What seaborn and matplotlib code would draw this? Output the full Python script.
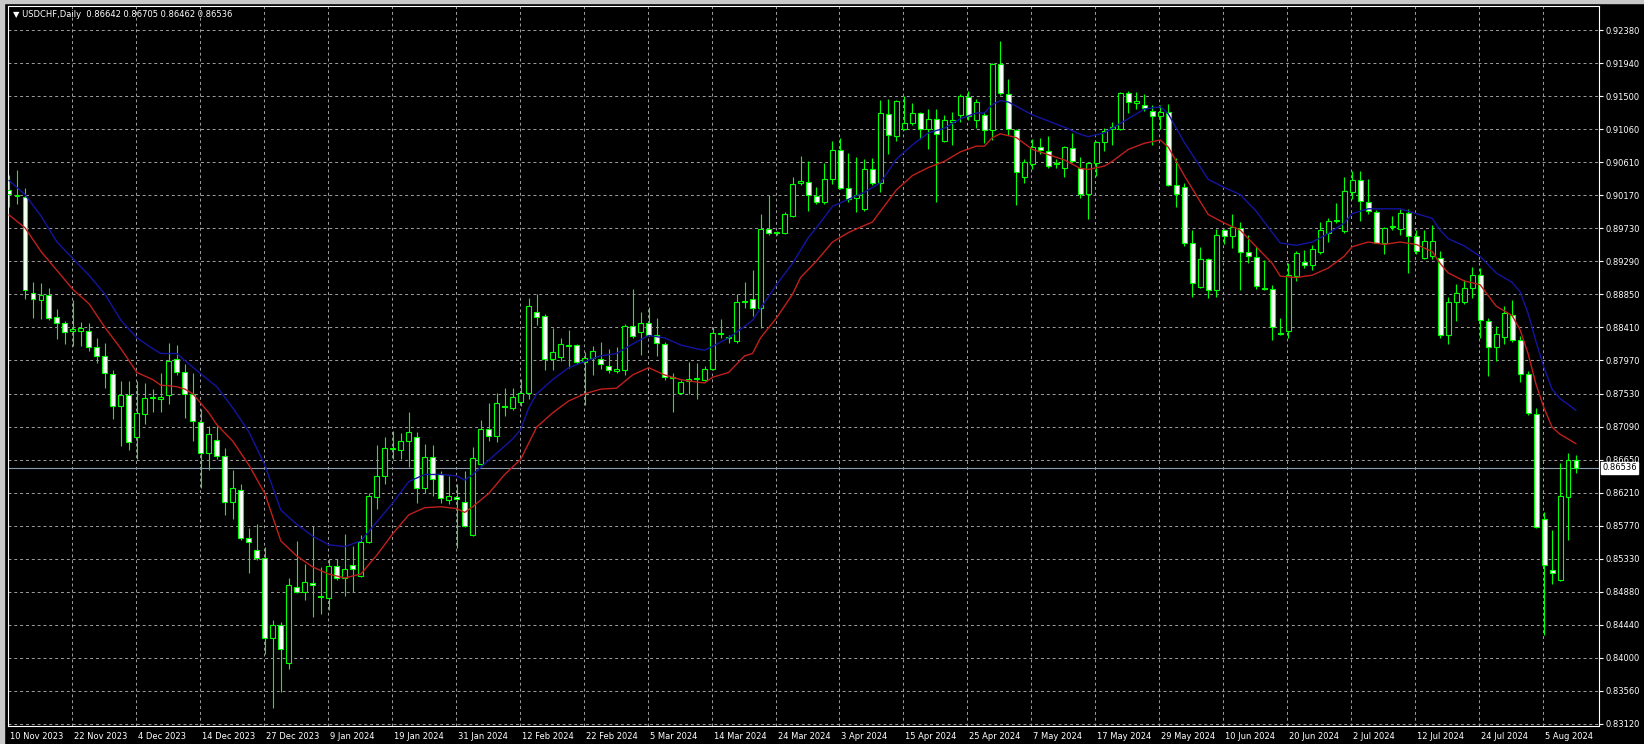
import numpy as np
import pandas as pd
import matplotlib
matplotlib.use("Agg")
import matplotlib.pyplot as plt
import matplotlib.transforms as mtransforms
from matplotlib.patches import Rectangle
import seaborn as sns

# daily USDCHF bars (index 0 = 10 Nov 2023)
opens = [
    0.90250, 0.90174, 0.90155, 0.88875, 0.88780, 0.88844, 0.88558, 0.88469, 0.88368, 0.88368,
    0.88368, 0.88146, 0.88032, 0.87791, 0.87366, 0.87512, 0.86942, 0.87252, 0.87474, 0.87461,
    0.87506, 0.87994, 0.87823, 0.87525, 0.87145, 0.86732, 0.86903, 0.86701, 0.86080, 0.86245,
    0.85605, 0.85434, 0.85338, 0.84261, 0.84432, 0.83931, 0.84946, 0.84882, 0.85002, 0.84831,
    0.84800, 0.85224, 0.85066, 0.85243, 0.85098, 0.85541, 0.86144, 0.86429, 0.86790, 0.86777,
    0.86891, 0.86942, 0.86270, 0.86688, 0.86448, 0.86112, 0.86150, 0.86080, 0.85636, 0.86586,
    0.87049, 0.86967, 0.87366, 0.87335, 0.87417, 0.87537, 0.88615, 0.88571, 0.87988, 0.88019,
    0.88165, 0.88171, 0.87956, 0.88000, 0.87988, 0.87893, 0.87836, 0.87842, 0.88425, 0.88349,
    0.88476, 0.88317, 0.88190, 0.87753, 0.87537, 0.87696, 0.87721, 0.87715, 0.87855, 0.88323,
    0.88267, 0.88235, 0.88755, 0.88793, 0.88666, 0.89730, 0.89686, 0.89667, 0.89902, 0.90345,
    0.90358, 0.90174, 0.90092, 0.90396, 0.90776, 0.90269, 0.90136, 0.89990, 0.90529, 0.90339,
    0.91264, 0.90967, 0.91062, 0.91138, 0.91277, 0.91062, 0.91201, 0.90897, 0.91163, 0.91246,
    0.91486, 0.91182, 0.91246, 0.91043, 0.91930, 0.91537, 0.91055, 0.90428, 0.90599, 0.90821,
    0.90770, 0.90612, 0.90536, 0.90808, 0.90548, 0.90199, 0.90612, 0.90884, 0.91068, 0.91062,
    0.91550, 0.91410, 0.91379, 0.91309, 0.91233, 0.91284, 0.90314, 0.90282, 0.89541, 0.88951,
    0.89331, 0.88907, 0.89712, 0.89636, 0.89744, 0.89414, 0.89350, 0.88945, 0.88932, 0.88343,
    0.88368, 0.89097, 0.89281, 0.89249, 0.89414, 0.89680, 0.89832, 0.89699, 0.90219, 0.90377,
    0.90092, 0.89952, 0.89534, 0.89750, 0.89724, 0.89946, 0.89636, 0.89344, 0.89363, 0.89344,
    0.88317, 0.88748, 0.88748, 0.88939, 0.89110, 0.88495, 0.88146, 0.88286, 0.88584, 0.88241,
    0.87791, 0.87259, 0.85858, 0.85167, 0.85041, 0.86144, 0.86642,
]
highs = [
    0.90453, 0.90516, 0.90269, 0.89015, 0.89002, 0.88939, 0.88653, 0.88495, 0.88780, 0.88488,
    0.88476, 0.88267, 0.88210, 0.87842, 0.87696, 0.87696, 0.87696, 0.87664, 0.87588, 0.87810,
    0.88210, 0.88171, 0.87918, 0.87797, 0.87322, 0.87100, 0.87100, 0.86796, 0.86511, 0.86321,
    0.85732, 0.85782, 0.85484, 0.84502, 0.84483, 0.85066, 0.85560, 0.85256, 0.85763, 0.85212,
    0.85320, 0.85320, 0.85656, 0.85497, 0.85636, 0.86194, 0.86841, 0.86942, 0.87030, 0.86999,
    0.87284, 0.87018, 0.86853, 0.86841, 0.86492, 0.86429, 0.86321, 0.86492, 0.86815, 0.87176,
    0.87398, 0.87537, 0.87601, 0.87601, 0.87728, 0.88806, 0.88856, 0.88590, 0.88400, 0.88273,
    0.88381, 0.88190, 0.88083, 0.88159, 0.88222, 0.88127, 0.88146, 0.88457, 0.88919, 0.88621,
    0.88685, 0.88539, 0.88222, 0.87810, 0.87715, 0.87956, 0.87937, 0.87893, 0.88412, 0.88527,
    0.88317, 0.88856, 0.89015, 0.89173, 0.89933, 0.90187, 0.89705, 0.89952, 0.90428, 0.90707,
    0.90631, 0.90282, 0.90612, 0.90903, 0.90948, 0.90745, 0.90694, 0.90656, 0.90681, 0.91455,
    0.91468, 0.91445, 0.91505, 0.91404, 0.91296, 0.91328, 0.91328, 0.91246, 0.91284, 0.91537,
    0.91569, 0.91468, 0.91296, 0.91943, 0.92235, 0.91727, 0.91062, 0.90662, 0.90928, 0.90948,
    0.90967, 0.90662, 0.90840, 0.91011, 0.90694, 0.90618, 0.90897, 0.91074, 0.91150, 0.91562,
    0.91569, 0.91562, 0.91531, 0.91379, 0.91379, 0.91391, 0.90681, 0.90345, 0.89712, 0.89490,
    0.89340, 0.89724, 0.89730, 0.89921, 0.89820, 0.89648, 0.89502, 0.89312, 0.88983, 0.88539,
    0.89268, 0.89439, 0.89446, 0.89509, 0.89826, 0.89870, 0.90079, 0.90428, 0.90504, 0.90504,
    0.90390, 0.89978, 0.89756, 0.89902, 0.89997, 0.89997, 0.89712, 0.89712, 0.89775, 0.89439,
    0.88824, 0.88996, 0.89046, 0.89224, 0.89205, 0.88539, 0.88425, 0.88698, 0.88780, 0.88298,
    0.87829, 0.87335, 0.85941, 0.85707, 0.86606, 0.86732, 0.86705,
]
lows = [
    0.90015, 0.90060, 0.88793, 0.88539, 0.88527, 0.88507, 0.88254, 0.88190, 0.88159, 0.88159,
    0.88095, 0.87937, 0.87607, 0.87195, 0.86827, 0.86777, 0.86650, 0.87125, 0.87284, 0.87284,
    0.87385, 0.87778, 0.87208, 0.86891, 0.86270, 0.86511, 0.86650, 0.85909, 0.85858, 0.85579,
    0.85129, 0.85307, 0.84051, 0.83322, 0.83544, 0.83849, 0.84863, 0.84768, 0.84546, 0.84590,
    0.84641, 0.85041, 0.84831, 0.84876, 0.85085, 0.85528, 0.85985, 0.86321, 0.86650, 0.86650,
    0.86543, 0.86067, 0.86194, 0.86163, 0.86067, 0.86048, 0.85465, 0.85750, 0.85624, 0.86574,
    0.86891, 0.86878, 0.87233, 0.87303, 0.87366, 0.87461, 0.88444, 0.87842, 0.87842, 0.87969,
    0.87874, 0.87918, 0.87379, 0.87778, 0.87855, 0.87810, 0.87810, 0.87778, 0.88273, 0.88045,
    0.88298, 0.88032, 0.87715, 0.87284, 0.87525, 0.87525, 0.87461, 0.87696, 0.87842, 0.88273,
    0.88210, 0.88210, 0.88666, 0.88571, 0.88400, 0.89648, 0.89648, 0.89661, 0.89883, 0.90314,
    0.89965, 0.90060, 0.90060, 0.90326, 0.90263, 0.90092, 0.89952, 0.89965, 0.90314, 0.90219,
    0.90726, 0.90897, 0.91055, 0.91119, 0.90935, 0.90802, 0.90092, 0.90884, 0.90852, 0.91157,
    0.91188, 0.91074, 0.90872, 0.90916, 0.91518, 0.90979, 0.90047, 0.90345, 0.90529, 0.90726,
    0.90548, 0.90536, 0.90428, 0.90618, 0.90136, 0.89857, 0.90441, 0.90770, 0.90852, 0.91055,
    0.91277, 0.91328, 0.91309, 0.90852, 0.91062, 0.90301, 0.90015, 0.89503, 0.88824, 0.88939,
    0.88806, 0.88824, 0.89521, 0.89477, 0.88907, 0.89268, 0.88919, 0.88907, 0.88241, 0.88317,
    0.88273, 0.89028, 0.89205, 0.89173, 0.89395, 0.89553, 0.89807, 0.89680, 0.90124, 0.89838,
    0.89921, 0.89534, 0.89395, 0.89712, 0.89648, 0.89141, 0.89395, 0.89331, 0.89331, 0.88273,
    0.88190, 0.88495, 0.88729, 0.88806, 0.88273, 0.87759, 0.87969, 0.88190, 0.88222, 0.87683,
    0.87240, 0.85732, 0.84305, 0.84990, 0.85022, 0.85579, 0.86462,
]
closes = [
    0.90199, 0.90180, 0.88907, 0.88793, 0.88850, 0.88539, 0.88476, 0.88349, 0.88387, 0.88400,
    0.88146, 0.88032, 0.87797, 0.87366, 0.87512, 0.86878, 0.87271, 0.87474, 0.87487, 0.87480,
    0.87969, 0.87823, 0.87525, 0.87157, 0.86732, 0.86986, 0.86701, 0.86080, 0.86270, 0.85605,
    0.85541, 0.85338, 0.84261, 0.84432, 0.84115, 0.84971, 0.84882, 0.85009, 0.84971, 0.84806,
    0.85224, 0.85066, 0.85180, 0.85180, 0.85541, 0.86163, 0.86429, 0.86796, 0.86802, 0.86891,
    0.87018, 0.86270, 0.86688, 0.86384, 0.86131, 0.86163, 0.86125, 0.85763, 0.86669, 0.87049,
    0.86967, 0.87398, 0.87347, 0.87480, 0.87537, 0.88698, 0.88558, 0.87988, 0.88083, 0.88190,
    0.88178, 0.87956, 0.88000, 0.88095, 0.87925, 0.87842, 0.87861, 0.88431, 0.88298, 0.88476,
    0.88317, 0.88210, 0.87747, 0.87741, 0.87683, 0.87721, 0.87734, 0.87855, 0.88336, 0.88336,
    0.88279, 0.88748, 0.88767, 0.88666, 0.89730, 0.89680, 0.89674, 0.89921, 0.90333, 0.90364,
    0.90187, 0.90092, 0.90396, 0.90776, 0.90269, 0.90124, 0.90187, 0.90529, 0.90339, 0.91277,
    0.90979, 0.91436, 0.91138, 0.91277, 0.91062, 0.91201, 0.90992, 0.91182, 0.91182, 0.91499,
    0.91233, 0.91423, 0.91043, 0.91930, 0.91550, 0.91062, 0.90485, 0.90618, 0.90821, 0.90776,
    0.90567, 0.90593, 0.90821, 0.90631, 0.90199, 0.90612, 0.90884, 0.91030, 0.91087, 0.91550,
    0.91423, 0.91442, 0.91341, 0.91233, 0.91296, 0.90314, 0.90199, 0.89541, 0.89002, 0.89331,
    0.88907, 0.89648, 0.89636, 0.89756, 0.89414, 0.89363, 0.88970, 0.88932, 0.88412, 0.88330,
    0.89110, 0.89407, 0.89249, 0.89458, 0.89712, 0.89838, 0.89845, 0.90231, 0.90377, 0.90105,
    0.89965, 0.89541, 0.89744, 0.89763, 0.89946, 0.89636, 0.89427, 0.89566, 0.89566, 0.88317,
    0.88748, 0.88869, 0.88939, 0.89110, 0.88508, 0.88146, 0.88330, 0.88602, 0.88241, 0.87791,
    0.87271, 0.85750, 0.85243, 0.85129, 0.86163, 0.86637, 0.86536,
]

# moving averages, read at a subset of bars
blue_idx = [0, 2, 4, 6, 8, 10, 12, 14, 16, 18, 19, 21, 22, 24, 26, 28, 30, 32, 34, 36,
            38, 40, 42, 44, 46, 48, 50, 52, 54, 56, 57, 58, 59, 61, 63, 64, 65, 66, 68, 70,
            72, 74, 76, 78, 80, 82, 84, 86, 87, 88, 90, 92, 93, 94, 96, 98, 100, 101, 103, 105,
            107, 109, 111, 113, 115, 117, 119, 121, 122, 123, 124, 125, 128, 132, 134, 135, 137, 138, 140, 142,
            144, 145, 147, 149, 150, 152, 154, 156, 158, 159, 161, 163, 165, 167, 168, 170, 172, 174, 176, 178,
            179, 180, 182, 184, 186, 188, 189, 190, 191, 192, 193, 194, 195, 196]
blue_ma = [0.90377, 0.90187, 0.89902, 0.89553, 0.89331, 0.89110, 0.88856, 0.88507, 0.88273, 0.88127,
           0.88064, 0.88064, 0.87969, 0.87791, 0.87620, 0.87335, 0.87018, 0.86574, 0.85972, 0.85782,
           0.85624, 0.85509, 0.85484, 0.85560, 0.85814, 0.86067, 0.86353, 0.86448, 0.86448, 0.86429,
           0.86372, 0.86448, 0.86543, 0.86733, 0.86923, 0.87049, 0.87335, 0.87525, 0.87715, 0.87874,
           0.87956, 0.88032, 0.88064, 0.88190, 0.88305, 0.88273, 0.88178, 0.88127, 0.88108, 0.88159,
           0.88273, 0.88425, 0.88507, 0.88666, 0.88983, 0.89268, 0.89617, 0.89744, 0.90029, 0.90124,
           0.90219, 0.90345, 0.90662, 0.90852, 0.91011, 0.91074, 0.91201, 0.91277, 0.91277, 0.91391,
           0.91442, 0.91423, 0.91252, 0.91087, 0.90992, 0.90960, 0.91011, 0.91074, 0.91201, 0.91328,
           0.91360, 0.91265, 0.90884, 0.90555, 0.90390, 0.90282, 0.90187, 0.89965, 0.89680, 0.89541,
           0.89509, 0.89553, 0.89667, 0.89807, 0.89933, 0.89997, 0.89997, 0.89997, 0.89933, 0.89870,
           0.89712, 0.89598, 0.89502, 0.89363, 0.89141, 0.89015, 0.88888, 0.88602, 0.88222, 0.87874,
           0.87588, 0.87461, 0.87386, 0.87303]
red_idx = [0, 2, 4, 6, 8, 10, 12, 14, 15, 16, 18, 19, 20, 21, 22, 23, 24, 25, 26, 28,
           30, 32, 34, 36, 38, 40, 42, 44, 46, 48, 49, 50, 52, 54, 56, 57, 58, 60, 62, 64,
           66, 68, 70, 72, 74, 76, 78, 80, 82, 84, 86, 87, 88, 90, 92, 93, 94, 96, 98, 99,
           101, 103, 105, 107, 108, 109, 111, 113, 115, 117, 119, 121, 122, 123, 124, 126, 128, 132, 134, 135,
           137, 138, 140, 142, 144, 145, 147, 149, 150, 152, 154, 156, 158, 159, 161, 163, 165, 167, 168, 170,
           172, 174, 176, 178, 179, 180, 182, 184, 186, 188, 189, 190, 191, 192, 193, 194, 195, 196]
red_ma = [0.89915, 0.89744, 0.89427, 0.89173, 0.88919, 0.88729, 0.88412, 0.88127, 0.87969, 0.87810,
          0.87715, 0.87639, 0.87633, 0.87620, 0.87588, 0.87525, 0.87398, 0.87271, 0.87113, 0.86891,
          0.86574, 0.86194, 0.85560, 0.85358, 0.85212, 0.85117, 0.85066, 0.85117, 0.85370, 0.85656,
          0.85782, 0.85909, 0.86004, 0.86017, 0.85992, 0.85941, 0.86017, 0.86194, 0.86448, 0.86650,
          0.87081, 0.87271, 0.87430, 0.87525, 0.87588, 0.87601, 0.87778, 0.87874, 0.87778, 0.87715,
          0.87683, 0.87671, 0.87747, 0.87810, 0.88032, 0.88064, 0.88273, 0.88539, 0.88856, 0.89078,
          0.89300, 0.89553, 0.89680, 0.89775, 0.89820, 0.89965, 0.90250, 0.90441, 0.90548, 0.90631,
          0.90758, 0.90834, 0.90834, 0.90948, 0.90999, 0.90948, 0.90790, 0.90650, 0.90536, 0.90523,
          0.90567, 0.90631, 0.90790, 0.90872, 0.90916, 0.90821, 0.90441, 0.90092, 0.89921, 0.89807,
          0.89712, 0.89490, 0.89268, 0.89097, 0.89078, 0.89110, 0.89205, 0.89363, 0.89490, 0.89553,
          0.89521, 0.89553, 0.89521, 0.89427, 0.89268, 0.89141, 0.89034, 0.88983, 0.88698, 0.88571,
          0.88381, 0.88064, 0.87652, 0.87335, 0.87081, 0.86986, 0.86923, 0.86859]

date_labels = ["10 Nov 2023", "22 Nov 2023", "4 Dec 2023", "14 Dec 2023", "27 Dec 2023",
               "9 Jan 2024", "19 Jan 2024", "31 Jan 2024", "12 Feb 2024", "22 Feb 2024",
               "5 Mar 2024", "14 Mar 2024", "24 Mar 2024", "3 Apr 2024", "15 Apr 2024",
               "25 Apr 2024", "7 May 2024", "17 May 2024", "29 May 2024", "10 Jun 2024",
               "20 Jun 2024", "2 Jul 2024", "12 Jul 2024", "24 Jul 2024", "5 Aug 2024"]
price_labels = ["0.83120", "0.83560", "0.84000", "0.84440", "0.84880", "0.85330", "0.85770",
                "0.86210", "0.86650", "0.87090", "0.87530", "0.87970", "0.88410", "0.88850",
                "0.89290", "0.89730", "0.90170", "0.90610", "0.91060", "0.91500", "0.91940",
                "0.92380"]

CANDLE = "#00ff00"
GRID = "#a0a0a0"
W, H = 1644, 744

sns.set_style("dark", {"axes.facecolor": "black", "figure.facecolor": "black",
                       "axes.edgecolor": "white", "text.color": "white",
                       "xtick.color": "white", "ytick.color": "white"})
plt.rcParams["font.family"] = ["DejaVu Sans"]

fig = plt.figure(figsize=(W / 100, H / 100), dpi=100)
fig.patch.set_facecolor("black")
ax = fig.add_axes([8 / W, 18 / H, (1599 - 8) / W, (726 - 6) / H])
ax.set_facecolor("black")

# window frame
fig.add_artist(Rectangle((0, 0), 4 / W, 1, transform=fig.transFigure, color="#c8c8c8", zorder=0))
fig.add_artist(Rectangle((0, 1 - 3 / H), 1, 3 / H, transform=fig.transFigure, color="#c8c8c8", zorder=0))

x = np.arange(len(opens))
o, h, l, c = (np.array(v) for v in (opens, highs, lows, closes))
bull = c >= o

ax.vlines(x, l, h, color=CANDLE, linewidth=0.8, zorder=3)
ax.bar(x[bull], (c - o)[bull], bottom=o[bull], width=0.62, color="black",
       edgecolor=CANDLE, linewidth=0.8, zorder=4)
ax.bar(x[~bull], (o - c)[~bull], bottom=c[~bull], width=0.62, color="white",
       edgecolor=CANDLE, linewidth=0.8, zorder=4)

ma = pd.DataFrame({"bar": blue_idx, "price": blue_ma})
sns.lineplot(data=ma, x="bar", y="price", ax=ax, color="#1414a0", linewidth=1, zorder=5)
ma = pd.DataFrame({"bar": red_idx, "price": red_ma})
sns.lineplot(data=ma, x="bar", y="price", ax=ax, color="#c0201c", linewidth=1, zorder=5)

# bid line and label
last = closes[-1]
ax.axhline(last, color="#8c9bab", linewidth=0.8, zorder=2)
ax.annotate(f"{last:.5f}", xy=(1, last), xycoords=("axes fraction", "data"),
            xytext=(2.5, 0), textcoords="offset points", ha="left", va="center",
            fontsize=6, color="black", annotation_clip=False,
            bbox=dict(boxstyle="square,pad=0.15", fc="white", ec="white"))

ax.set_xlim(-0.1, 198.875)
ax.set_ylim(0.83088, 0.92706)

ax.set_xticks(np.arange(len(date_labels)) * 8 - 0.125)
ax.set_xticklabels(date_labels)
ax.yaxis.tick_right()
ax.set_yticks(np.linspace(0.83120, 0.92380, len(price_labels)))
ax.set_yticklabels(price_labels)
ax.tick_params(axis="x", direction="out", length=3, width=0.8, color="white",
               labelcolor="white", labelsize=6, pad=1.5)
ax.tick_params(axis="y", direction="out", length=3, width=0.8, color="white",
               labelcolor="white", labelsize=6, pad=2)
shift = mtransforms.ScaledTranslation(0.02, 0, fig.dpi_scale_trans)
for lbl in ax.get_xticklabels():
    lbl.set_ha("left")
    lbl.set_transform(lbl.get_transform() + shift)

ax.grid(True, color=GRID, linestyle=(0, (3, 3)), linewidth=0.7, zorder=1)
ax.set_axisbelow(True)
for sp in ax.spines.values():
    sp.set_color("white")
    sp.set_linewidth(0.8)
ax.set_xlabel("")
ax.set_ylabel("")

ax.text(0.003, 0.988, "\u25bc USDCHF,Daily  0.86642 0.86705 0.86462 0.86536",
        transform=ax.transAxes, fontsize=6, color="white", ha="left", va="center")

fig.savefig("out.png", dpi=100, facecolor="black")
